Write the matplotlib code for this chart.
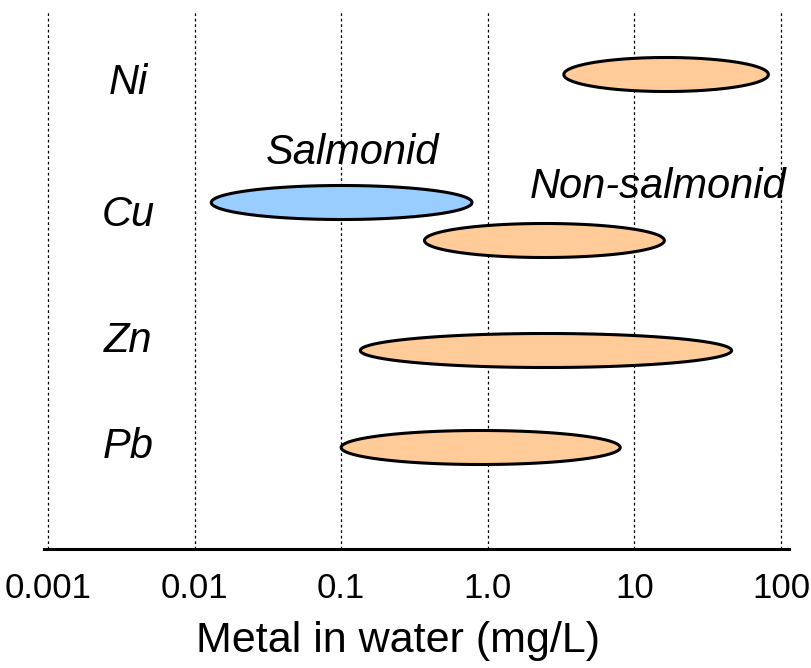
import numpy as np
import matplotlib
matplotlib.use("Agg")
import matplotlib.pyplot as plt

plt.rcParams['font.family'] = ['Liberation Sans', 'DejaVu Sans']

# ---- data ----
metals = ["Ni", "Cu", "Zn", "Pb"]
metal_label_y = [455, 323, 197, 91]          # label baselines (row positions)
ranges_low = [3.3, 0.013, 0.37, 0.135, 0.100]   # mg/L, lower end of range
ranges_high = [82.0, 0.78, 16.0, 46.0, 8.0]     # mg/L, upper end of range
range_rows = [474, 346, 308, 198, 101]           # vertical row positions
range_groups = ["Non-salmonid", "Salmonid", "Non-salmonid", "Non-salmonid", "Non-salmonid"]
tick_values = [0.001, 0.01, 0.1, 1.0, 10, 100]
tick_labels = ["0.001", "0.01", "0.1", "1.0", "10", "100"]

colors = {"Salmonid": "#99CCFF", "Non-salmonid": "#FFCC99"}

W, H = 811, 668
fig = plt.figure(figsize=(W / 100, H / 100), dpi=100)
ax = fig.add_axes([48 / W, 1 - 548.5 / H, (781 - 48) / W, (548.5 - 10) / H])
ax.set_xscale("log")
ax.set_xlim(0.001, 100)
ax.set_ylim(0, 538.5)

for v in tick_values:
    ax.axvline(v, color="black", lw=0.9, linestyle=(0, (2.2, 2.2)), zorder=1,
               clip_on=False)

t = np.linspace(0, 2 * np.pi, 400)
half_h = 17.0
for lo, hi, yc, g in zip(ranges_low, ranges_high, range_rows, range_groups):
    c = (np.log10(lo) + np.log10(hi)) / 2
    a = (np.log10(hi) - np.log10(lo)) / 2
    xs = 10 ** (c + a * np.cos(t))
    ys = yc + half_h * np.sin(t)
    ax.fill(xs, ys, facecolor=colors[g], edgecolor="black", lw=2.2, zorder=3)

label_x = 10 ** ((128 - 48) / 146.8 - 3)
for m, y in zip(metals, metal_label_y):
    ax.text(label_x, y, m, fontsize=30, style="italic", ha="center", va="baseline", zorder=4)

ax.text(0.1187, 385, "Salmonid", fontsize=30, style="italic", ha="center", va="baseline", zorder=4)
ax.text(14.4, 351, "Non-salmonid", fontsize=30, style="italic", ha="center", va="baseline", zorder=4)

for s in ["left", "right", "top", "bottom"]:
    ax.spines[s].set_visible(False)
ax.set_yticks([])
ax.set_xticks(tick_values)
ax.set_xticklabels(tick_labels, fontsize=25)
ax.xaxis.set_minor_locator(matplotlib.ticker.NullLocator())
ax.tick_params(axis="x", length=0, pad=17)

# axis baseline extending slightly beyond the plot area
fig.add_artist(plt.Line2D([44 / W, 789 / W], [1 - 549 / H, 1 - 549 / H],
                          color="black", lw=2.2))

fig.text(398.5 / W, 1 - 651.7 / H, "Metal in water (mg/L)", fontsize=31,
         ha="center", va="baseline")

fig.savefig("out.png", dpi=100)
